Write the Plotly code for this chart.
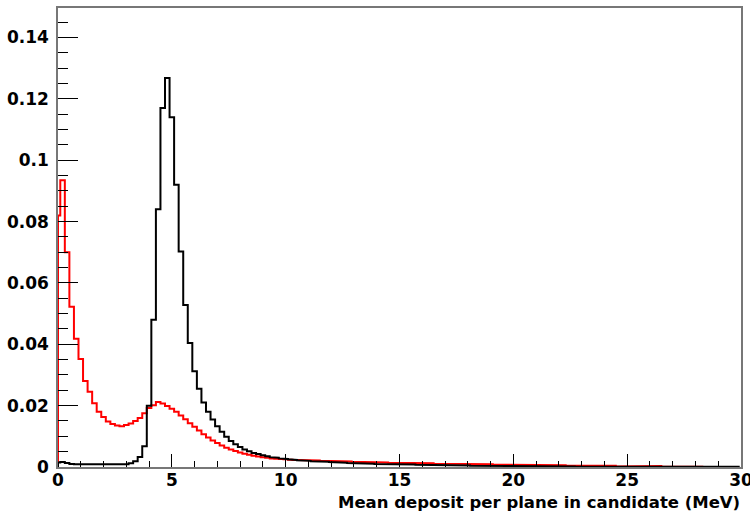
import numpy as np
import plotly.graph_objects as go

# ---------------- data ----------------
bin_width = 0.2          # MeV, bin centres at 0, 0.2, 0.4, ...
x_axis_range = [0, 30]
y_axis_range = [0, 0.1496]

black_values = [
    0.0015, 0.0016, 0.0013, 0.0010, 0.0009, 0.0009, 0.0008, 0.0008, 0.0008, 0.0008,
    0.0008, 0.0008, 0.0008, 0.0008, 0.0008, 0.0009, 0.0012, 0.0019, 0.0033, 0.0068,
    0.0200, 0.0480, 0.0840, 0.1170, 0.1268, 0.1140, 0.0920, 0.0702, 0.0528, 0.0404,
    0.0312, 0.0255, 0.0210, 0.0180, 0.0155, 0.0133, 0.0115, 0.0099, 0.0085, 0.0074,
    0.0065, 0.0057, 0.0051, 0.0046, 0.0042, 0.0038, 0.0035, 0.0032, 0.0030, 0.0028,
    0.0026, 0.0025, 0.0023, 0.0022, 0.0021, 0.0020, 0.0019, 0.0018, 0.0017, 0.0017,
    0.0016, 0.0015, 0.0015, 0.0014, 0.0013, 0.0013, 0.0012, 0.0012, 0.0011, 0.0011,
    0.0010, 0.0010, 0.0010, 0.0009, 0.0009, 0.0009, 0.0008, 0.0008, 0.0008, 0.0007,
    0.0007, 0.0007, 0.0007, 0.0006, 0.0006, 0.0006, 0.0006, 0.0005, 0.0005, 0.0005,
    0.0005, 0.0004, 0.0004, 0.0004, 0.0004, 0.0004, 0.0003, 0.0003, 0.0003, 0.0003,
    0.0003, 0.0003, 0.0003, 0.0002, 0.0002, 0.0002, 0.0002, 0.0002, 0.0002, 0.0002,
    0.0002, 0.0002, 0.0002, 0.0002, 0.0001, 0.0001, 0.0001, 0.0001, 0.0001, 0.0001,
    0.0001, 0.0001, 0.0001, 0.0001, 0.0001, 0.0001, 0.0001, 0.0001, 0.0001, 0.0001,
    0.0001, 0.0001, 0.0001, 0.0001, 0.0001, 0.0001, 0.0001, 0.0001, 0.0001, 0.0001,
    0.0001, 0.0001, 0.0001, 0.0001, 0.0001, 0.0001, 0.0001, 0.0001, 0.0001, 0.0001,
]

red_values = [
    0.0820, 0.0935, 0.0700, 0.0522, 0.0418, 0.0352, 0.0280, 0.0245, 0.0208, 0.0180,
    0.0163, 0.0148, 0.0140, 0.0135, 0.0133, 0.0137, 0.0142, 0.0150, 0.0160, 0.0175,
    0.0192, 0.0201, 0.0212, 0.0207, 0.0199, 0.0190, 0.0180, 0.0168, 0.0156, 0.0143,
    0.0131, 0.0119, 0.0107, 0.0096, 0.0086, 0.0078, 0.0070, 0.0063, 0.0057, 0.0052,
    0.0047, 0.0043, 0.0040, 0.0037, 0.0034, 0.0032, 0.0030, 0.0028, 0.0027, 0.0026,
    0.0025, 0.0024, 0.0023, 0.0023, 0.0022, 0.0022, 0.0021, 0.0021, 0.0020, 0.0020,
    0.0019, 0.0019, 0.0019, 0.0018, 0.0018, 0.0017, 0.0017, 0.0016, 0.0016, 0.0016,
    0.0015, 0.0015, 0.0015, 0.0014, 0.0014, 0.0014, 0.0013, 0.0013, 0.0013, 0.0012,
    0.0012, 0.0012, 0.0012, 0.0011, 0.0011, 0.0011, 0.0011, 0.0010, 0.0010, 0.0010,
    0.0010, 0.0009, 0.0009, 0.0009, 0.0009, 0.0009, 0.0008, 0.0008, 0.0008, 0.0008,
    0.0008, 0.0007, 0.0007, 0.0007, 0.0007, 0.0007, 0.0006, 0.0006, 0.0006, 0.0006,
    0.0006, 0.0006, 0.0005, 0.0005, 0.0005, 0.0005, 0.0005, 0.0005, 0.0005, 0.0005,
    0.0005, 0.0004, 0.0004, 0.0002, 0.0002, 0.0004, 0.0004, 0.0004, 0.0004, 0.0003,
    0.0003, 0.0003, 0.0003, 0.0001, 0.0001, 0.0001, 0.0003, 0.0003, 0.0001, 0.0001,
    0.0001, 0.0001, 0.0000, 0.0000, 0.0001, 0.0000, 0.0000, 0.0000, 0.0000, 0.0000,
]

y_tick_values = [0, 0.02, 0.04, 0.06, 0.08, 0.10, 0.12, 0.14]
y_tick_labels = ["0", "0.02", "0.04", "0.06", "0.08", "0.1", "0.12", "0.14"]
x_tick_values = [0, 5, 10, 15, 20, 25, 30]
x_tick_labels = ["0", "5", "10", "15", "20", "25", "30"]
x_title = "Mean deposit per plane in candidate (MeV)"


def step_path(values):
    v = np.asarray(values, dtype=float)
    centres = bin_width * np.arange(len(v))
    lo = np.maximum(centres - bin_width / 2, x_axis_range[0])
    hi = centres + bin_width / 2
    xs = np.column_stack([lo, hi]).ravel()
    ys = np.repeat(v, 2)
    xs = np.concatenate([[lo[0]], xs, [hi[-1]]])
    ys = np.concatenate([[0.0], ys, [0.0]])
    return xs, ys


fig = go.Figure()
for vals, col in [(red_values, "#ff0000"), (black_values, "#000000")]:
    xs, ys = step_path(vals)
    fig.add_trace(go.Scatter(x=xs, y=ys, mode="lines",
                             line=dict(color=col, width=2), hoverinfo="skip",
                             showlegend=False))

FONT = "DejaVu Sans"
tickfont = dict(family=FONT, size=17, color="black", weight="bold")

fig.update_layout(
    width=750, height=512,
    margin=dict(l=58, r=9, t=8, b=45, autoexpand=False),
    paper_bgcolor="white", plot_bgcolor="white",
    showlegend=False,
)
fig.update_xaxes(
    range=x_axis_range, showgrid=False, zeroline=False, automargin=False,
    showline=True, linecolor="#777777", linewidth=1.5, mirror=True,
    ticks="inside", ticklen=13, tickwidth=1, tickcolor="black",
    tickvals=x_tick_values, ticktext=x_tick_labels, tickfont=tickfont,
    ticklabeloverflow="allow", ticklabelstandoff=-3,
    minor=dict(dtick=1, ticks="inside", ticklen=6, tickwidth=1, tickcolor="black"),
)
fig.update_yaxes(
    range=y_axis_range, showgrid=False, zeroline=False, automargin=False,
    showline=True, linecolor="#777777", linewidth=1.5, mirror=True,
    ticks="inside", ticklen=20, tickwidth=1, tickcolor="black",
    tickvals=y_tick_values, ticktext=y_tick_labels, tickfont=tickfont,
    ticklabelstandoff=4,
    minor=dict(dtick=0.005, ticks="inside", ticklen=10, tickwidth=1, tickcolor="black"),
)
fig.add_annotation(
    text=x_title, xref="paper", yref="paper", x=1, y=0,
    xanchor="right", yanchor="top", yshift=-25, showarrow=False,
    borderpad=0,
    font=dict(family=FONT, size=16.5, color="black", weight="bold"),
)

fig.write_html("out.html")
